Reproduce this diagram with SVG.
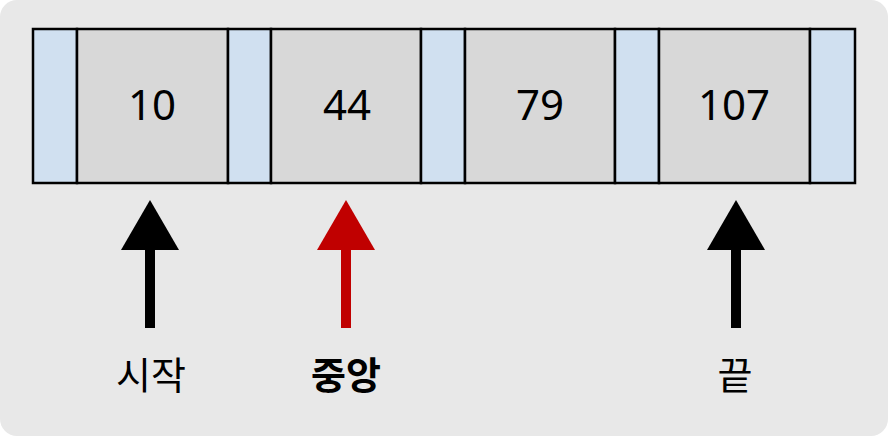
<svg xmlns="http://www.w3.org/2000/svg" width="888" height="436" viewBox="0 0 888 436">
<style>
.bg{fill:#e8e8e8}
.blue{fill:#d0e0f0;stroke:#000;stroke-width:2.5}
.gray{fill:#d8d8d8;stroke:#000;stroke-width:2.5}
.num{font-family:"Noto Sans","Noto Sans CJK KR",sans-serif;font-size:42px;fill:#000;text-anchor:middle}
.lbl{font-family:"Noto Sans CJK KR",sans-serif;font-size:38px;fill:#000;text-anchor:middle}
.bold{font-weight:bold}
</style>
<rect class="bg" x="0" y="0" width="888" height="436" rx="17" ry="17"/>
<g id="cells">
<g id="gap0"><rect class="blue" x="33" y="29" width="44" height="154"/></g>
<g id="cell10"><rect class="gray" x="77" y="29" width="151" height="154"/><text class="num" x="152" y="120">10</text></g>
<g id="gap1"><rect class="blue" x="228" y="29" width="43" height="154"/></g>
<g id="cell44"><rect class="gray" x="271" y="29" width="150" height="154"/><text class="num" x="347" y="120">44</text></g>
<g id="gap2"><rect class="blue" x="421" y="29" width="44" height="154"/></g>
<g id="cell79"><rect class="gray" x="465" y="29" width="150" height="154"/><text class="num" x="540" y="120">79</text></g>
<g id="gap3"><rect class="blue" x="615" y="29" width="44" height="154"/></g>
<g id="cell107"><rect class="gray" x="659" y="29" width="151" height="154"/><text class="num" x="734" y="120">107</text></g>
<g id="gap4"><rect class="blue" x="810" y="29" width="45" height="154"/></g>
</g>
<g id="connectors">
<g id="arrow-start"><rect x="145" y="248" width="10" height="80" fill="#000"/><polygon points="150,200 179,250 121,250" fill="#000"/></g>
<g id="arrow-mid"><rect x="341" y="248" width="10" height="80" fill="#c00000"/><polygon points="346,200 375,250 317,250" fill="#c00000"/></g>
<g id="arrow-end"><rect x="731" y="248" width="10" height="80" fill="#000"/><polygon points="736,200 765,250 707,250" fill="#000"/></g>
</g>
<g id="label-start"><text class="lbl" x="151" y="389">시작</text></g>
<g id="label-mid"><text class="lbl bold" x="346" y="389">중앙</text></g>
<g id="label-end"><text class="lbl" x="735" y="389">끝</text></g>
</svg>
